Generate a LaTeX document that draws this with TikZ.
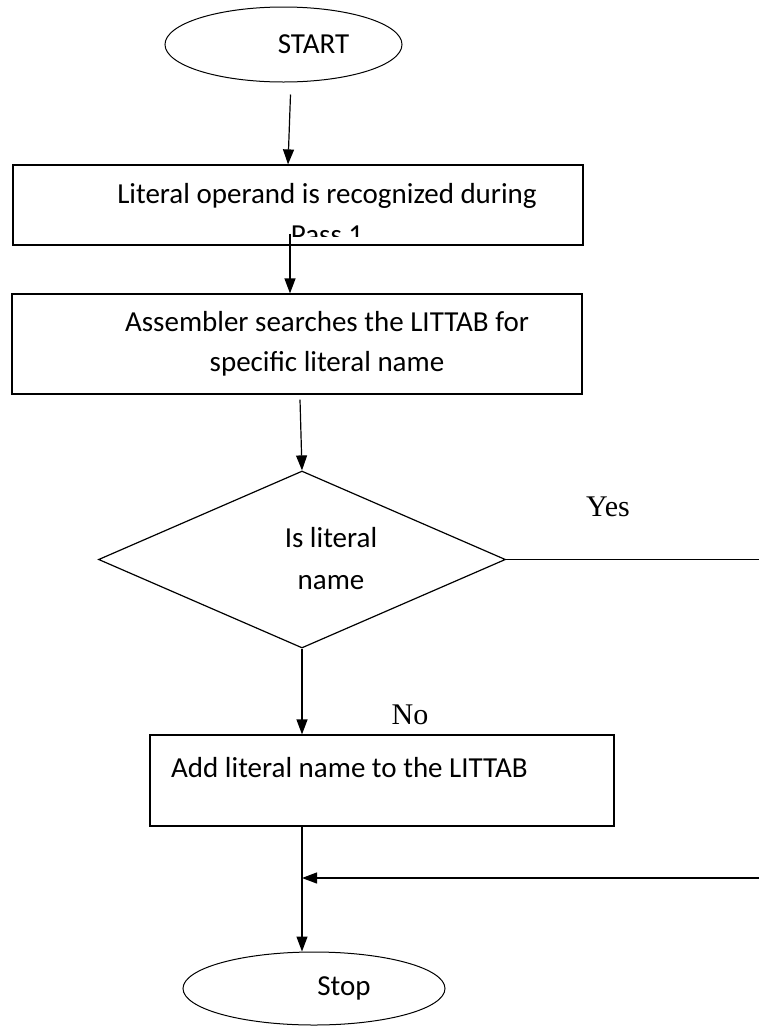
\documentclass[tikz,border=0pt]{standalone}
\usepackage{fontspec}
\setmainfont{Carlito}
\newfontfamily\ynfont{Liberation Serif}
\usetikzlibrary{shapes.geometric,arrows.meta,positioning,calc}

\begin{document}
\begin{tikzpicture}[x=1pt,y=-1pt,
    term/.style={ellipse, draw, line width=1pt, inner sep=0pt},
    procbox/.style={rectangle, draw, line width=1.2pt, inner sep=0pt},
    decide/.style={diamond, draw, line width=1.2pt, inner sep=0pt},
    boxtext/.style={inner sep=0pt, font=\fontsize{29}{40}\selectfont},
    yn/.style={inner sep=0pt, font=\ynfont\fontsize{30}{34}\selectfont},
    flow/.style={line width=1.2pt, -{Triangle[length=15pt,width=11pt]}}]
        \useasboundingbox (0,0) rectangle (759,1026);
        % --- terminals ---
        \node[term, minimum width=237pt, minimum height=75pt] (start) at (283.5,44.5) {};
        \node[boxtext] (starttxt) at ([xshift=30pt]start.center) {START};
        \node[term, minimum width=262pt, minimum height=73pt] (stop) at (314,988.5) {};
        \node[boxtext] (stoptxt) at ([xshift=30pt]stop.center) {Stop};
        % --- process boxes ---
        \node[procbox, minimum width=570pt, minimum height=80pt] (recog) at (298,205) {};
        \begin{scope}
          % second line runs out of the box and is cut off
          \clip (recog.north west) rectangle ([yshift=9pt]recog.south east);
          \node[boxtext, anchor=base] (recogA) at (327,203) {Literal operand is recognized during};
          \node[boxtext, anchor=base] (recogB) at (327,244) {Pass 1};
        \end{scope}
        \node[procbox, minimum width=570pt, minimum height=100pt] (search) at (297,344) {};
        \node[boxtext, align=center] (searchtxt) at ([xshift=30pt]search.center)
          {Assembler searches the LITTAB for\\specific literal name};
        \node[procbox, minimum width=464pt, minimum height=91pt] (addlit) at (382,780.5) {};
        \node[boxtext, anchor=base west] (addtxt) at (171,777) {Add literal name to the LITTAB};
        % --- decision ---
        \node[decide, aspect=2.3, minimum width=407pt, minimum height=177pt] (isname) at (302,559.5) {};
        \node[boxtext, align=center, font=\fontsize{29}{42}\selectfont] (isnametxt)
          at ([xshift=29pt,yshift=1pt]isname.center) {Is literal\\name};
        % free ends at the right border
        \coordinate (yesend) at (759,559.5);
        \coordinate (backin) at (759,878);
        % --- connections ---
        \draw[flow] ($(start.south)+(7,12)$) -- ($(recog.north)+(-10,0)$);
        \draw[flow] ($(recog.south)+(-8,-12)$) -- ($(search.north)+(-7,0)$);
        \draw[flow] ($(search.south)+(3,5)$) -- (isname.north);
        \draw[line width=1.2pt] (isname.east) -- (yesend);
        \draw[flow] (isname.south) -- (isname.south |- addlit.north);
        \draw[flow] (isname.south |- addlit.south) -- (isname.south |- stop.north);
        \draw[flow] (backin) -- (isname.south |- backin);
        % --- branch labels ---
        \node[yn] (yes) at (608,507) {Yes};
        \node[yn] (no) at (410,715) {No};
\end{tikzpicture}
\end{document}
